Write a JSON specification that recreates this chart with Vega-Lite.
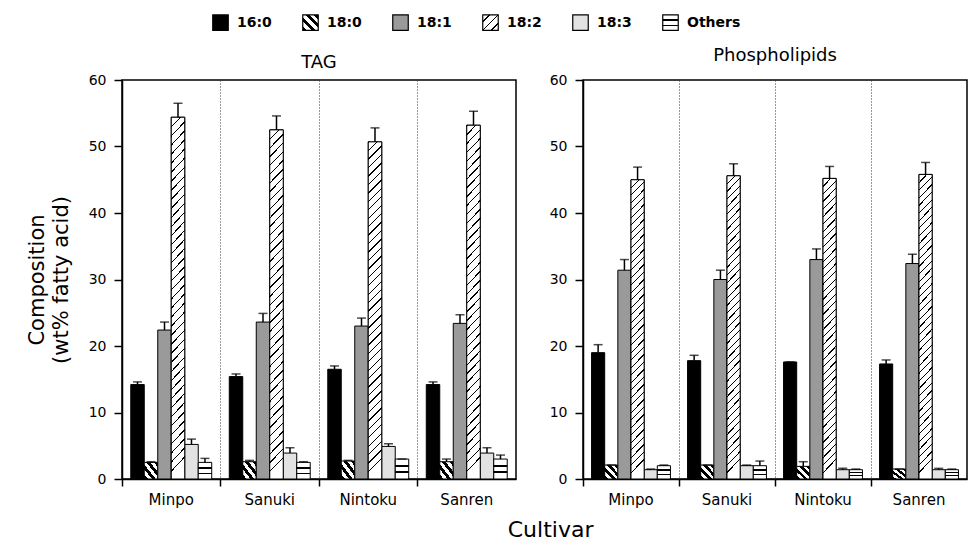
{
  "$schema": "https://vega.github.io/schema/vega-lite/v6.json",
  "background": "white",
  "padding": {"left": 25, "top": 13, "right": 0, "bottom": 0},
  "bounds": "flush",
  "datasets": {
    "fa": [
      {"lipid": "TAG", "cultivar": "Minpo", "acid": "16:0", "value": 14.2, "upper": 14.6},
      {"lipid": "TAG", "cultivar": "Minpo", "acid": "18:0", "value": 2.5, "upper": 2.6},
      {"lipid": "TAG", "cultivar": "Minpo", "acid": "18:1", "value": 22.4, "upper": 23.6},
      {"lipid": "TAG", "cultivar": "Minpo", "acid": "18:2", "value": 54.4, "upper": 56.5},
      {"lipid": "TAG", "cultivar": "Minpo", "acid": "18:3", "value": 5.2, "upper": 6.0},
      {"lipid": "TAG", "cultivar": "Minpo", "acid": "Others", "value": 2.5, "upper": 3.1},
      {"lipid": "TAG", "cultivar": "Sanuki", "acid": "16:0", "value": 15.4, "upper": 15.8},
      {"lipid": "TAG", "cultivar": "Sanuki", "acid": "18:0", "value": 2.6, "upper": 2.8},
      {"lipid": "TAG", "cultivar": "Sanuki", "acid": "18:1", "value": 23.6, "upper": 24.9},
      {"lipid": "TAG", "cultivar": "Sanuki", "acid": "18:2", "value": 52.5, "upper": 54.6},
      {"lipid": "TAG", "cultivar": "Sanuki", "acid": "18:3", "value": 3.9, "upper": 4.7},
      {"lipid": "TAG", "cultivar": "Sanuki", "acid": "Others", "value": 2.5, "upper": 2.6},
      {"lipid": "TAG", "cultivar": "Nintoku", "acid": "16:0", "value": 16.5, "upper": 17.0},
      {"lipid": "TAG", "cultivar": "Nintoku", "acid": "18:0", "value": 2.7, "upper": 2.8},
      {"lipid": "TAG", "cultivar": "Nintoku", "acid": "18:1", "value": 23.0, "upper": 24.2},
      {"lipid": "TAG", "cultivar": "Nintoku", "acid": "18:2", "value": 50.7, "upper": 52.8},
      {"lipid": "TAG", "cultivar": "Nintoku", "acid": "18:3", "value": 4.9, "upper": 5.3},
      {"lipid": "TAG", "cultivar": "Nintoku", "acid": "Others", "value": 3.0, "upper": 3.0},
      {"lipid": "TAG", "cultivar": "Sanren", "acid": "16:0", "value": 14.2, "upper": 14.6},
      {"lipid": "TAG", "cultivar": "Sanren", "acid": "18:0", "value": 2.6, "upper": 3.0},
      {"lipid": "TAG", "cultivar": "Sanren", "acid": "18:1", "value": 23.4, "upper": 24.7},
      {"lipid": "TAG", "cultivar": "Sanren", "acid": "18:2", "value": 53.2, "upper": 55.3},
      {"lipid": "TAG", "cultivar": "Sanren", "acid": "18:3", "value": 3.9, "upper": 4.7},
      {"lipid": "TAG", "cultivar": "Sanren", "acid": "Others", "value": 3.0, "upper": 3.6},
      {"lipid": "Phospholipids", "cultivar": "Minpo", "acid": "16:0", "value": 19.0, "upper": 20.2},
      {"lipid": "Phospholipids", "cultivar": "Minpo", "acid": "18:0", "value": 2.1, "upper": 2.1},
      {"lipid": "Phospholipids", "cultivar": "Minpo", "acid": "18:1", "value": 31.4, "upper": 33.0},
      {"lipid": "Phospholipids", "cultivar": "Minpo", "acid": "18:2", "value": 45.0, "upper": 46.9},
      {"lipid": "Phospholipids", "cultivar": "Minpo", "acid": "18:3", "value": 1.4, "upper": 1.5},
      {"lipid": "Phospholipids", "cultivar": "Minpo", "acid": "Others", "value": 2.0, "upper": 2.1},
      {"lipid": "Phospholipids", "cultivar": "Sanuki", "acid": "16:0", "value": 17.8, "upper": 18.6},
      {"lipid": "Phospholipids", "cultivar": "Sanuki", "acid": "18:0", "value": 2.1, "upper": 2.1},
      {"lipid": "Phospholipids", "cultivar": "Sanuki", "acid": "18:1", "value": 30.0, "upper": 31.4},
      {"lipid": "Phospholipids", "cultivar": "Sanuki", "acid": "18:2", "value": 45.6, "upper": 47.4},
      {"lipid": "Phospholipids", "cultivar": "Sanuki", "acid": "18:3", "value": 2.0, "upper": 2.1},
      {"lipid": "Phospholipids", "cultivar": "Sanuki", "acid": "Others", "value": 2.0, "upper": 2.7},
      {"lipid": "Phospholipids", "cultivar": "Nintoku", "acid": "16:0", "value": 17.6, "upper": 17.6},
      {"lipid": "Phospholipids", "cultivar": "Nintoku", "acid": "18:0", "value": 1.9, "upper": 2.6},
      {"lipid": "Phospholipids", "cultivar": "Nintoku", "acid": "18:1", "value": 33.0, "upper": 34.6},
      {"lipid": "Phospholipids", "cultivar": "Nintoku", "acid": "18:2", "value": 45.2, "upper": 47.0},
      {"lipid": "Phospholipids", "cultivar": "Nintoku", "acid": "18:3", "value": 1.4, "upper": 1.6},
      {"lipid": "Phospholipids", "cultivar": "Nintoku", "acid": "Others", "value": 1.4, "upper": 1.5},
      {"lipid": "Phospholipids", "cultivar": "Sanren", "acid": "16:0", "value": 17.3, "upper": 17.9},
      {"lipid": "Phospholipids", "cultivar": "Sanren", "acid": "18:0", "value": 1.5, "upper": 1.5},
      {"lipid": "Phospholipids", "cultivar": "Sanren", "acid": "18:1", "value": 32.4, "upper": 33.8},
      {"lipid": "Phospholipids", "cultivar": "Sanren", "acid": "18:2", "value": 45.8, "upper": 47.6},
      {"lipid": "Phospholipids", "cultivar": "Sanren", "acid": "18:3", "value": 1.4, "upper": 1.6},
      {"lipid": "Phospholipids", "cultivar": "Sanren", "acid": "Others", "value": 1.4, "upper": 1.5}
    ]
  },
  "title": {"text": "Cultivar", "orient": "bottom", "anchor": "middle", "frame": "bounds", "fontSize": 22, "fontWeight": "normal", "font": "DejaVu Sans", "color": "black", "offset": 12, "dx": 54},
  "spacing": 67,
  "hconcat": [
    {
      "width": 394,
      "height": 399,
      "title": {"text": "TAG", "offset": -58},
      "data": {"name": "fa"},
      "transform": [{"filter": "datum.lipid === 'TAG'"}],
      "encoding": {
        "x": {"field": "cultivar", "type": "nominal", "sort": ["Minpo", "Sanuki", "Nintoku", "Sanren"], "scale": {"domain": ["Minpo", "Sanuki", "Nintoku", "Sanren"], "paddingInner": 0, "paddingOuter": 0}, "axis": {"title": null, "bandPosition": 0, "grid": true, "labelAngle": 0}},
        "xOffset": {"field": "acid", "type": "nominal", "scale": {"domain": ["16:0", "18:0", "18:1", "18:2", "18:3", "Others"], "paddingInner": 0, "paddingOuter": 0.65}},
        "y": {"field": "value", "type": "quantitative", "scale": {"domain": [0, 60], "nice": false}, "axis": {"values": [0, 10, 20, 30, 40, 50, 60], "title": ["Composition", "(wt% fatty acid)"]}}
      },
      "layer": [
        {
          "mark": {"type": "bar", "stroke": "black", "strokeWidth": 1},
          "encoding": {
            "color": {
              "field": "acid", "type": "nominal",
              "scale": {"domain": ["16:0", "18:0", "18:1", "18:2", "18:3", "Others"], "range": [
                "#000000",
                {"expr": "{gradient: 'linear', x1: 0, y1: 1, x2: 1, y2: 0, stops: [{offset: 0, color: '#000'}, {offset: 0.143, color: '#000'}, {offset: 0.143, color: '#fff'}, {offset: 0.286, color: '#fff'}, {offset: 0.286, color: '#000'}, {offset: 0.429, color: '#000'}, {offset: 0.429, color: '#fff'}, {offset: 0.571, color: '#fff'}, {offset: 0.571, color: '#000'}, {offset: 0.714, color: '#000'}, {offset: 0.714, color: '#fff'}, {offset: 0.857, color: '#fff'}, {offset: 0.857, color: '#000'}, {offset: 1, color: '#000'}]}"},
                "#9a9a9a",
                {"expr": "{gradient: 'linear', x1: 0, y1: 0, x2: 1, y2: 1, stops: [{offset: 0, color: '#fff'}, {offset: 0.2, color: '#fff'}, {offset: 0.2, color: '#000'}, {offset: 0.25, color: '#000'}, {offset: 0.25, color: '#fff'}, {offset: 0.475, color: '#fff'}, {offset: 0.475, color: '#000'}, {offset: 0.525, color: '#000'}, {offset: 0.525, color: '#fff'}, {offset: 0.75, color: '#fff'}, {offset: 0.75, color: '#000'}, {offset: 0.8, color: '#000'}, {offset: 0.8, color: '#fff'}, {offset: 1, color: '#fff'}]}"},
                "#e2e2e2",
                {"expr": "{gradient: 'linear', x1: 0, y1: 0, x2: 0, y2: 1, stops: [{offset: 0, color: '#fff'}, {offset: 0.28, color: '#fff'}, {offset: 0.28, color: '#000'}, {offset: 0.38, color: '#000'}, {offset: 0.38, color: '#fff'}, {offset: 0.62, color: '#fff'}, {offset: 0.62, color: '#000'}, {offset: 0.72, color: '#000'}, {offset: 0.72, color: '#fff'}, {offset: 1, color: '#fff'}]}"}
              ]},
              "legend": {"orient": "none", "legendX": 90, "legendY": -66, "direction": "horizontal", "title": null, "symbolType": "square", "symbolSize": 240, "symbolStrokeColor": "black", "symbolStrokeWidth": 1.2, "symbolOpacity": 1, "labelFontSize": 14, "labelFontWeight": "bold", "labelColor": "black", "labelOffset": 8, "columnPadding": 9, "gridAlign": "all",
                "encode": {"symbols": {"update": {"stroke": {"value": "black"}, "strokeWidth": {"value": 1.2}}}}}
            }
          }
        },
        {
          "transform": [{"filter": "datum.acid === '18:2'"}],
          "mark": {"type": "bar", "stroke": "black", "strokeWidth": 1, "fill": {"gradient": "linear", "x1": 0, "y1": 0, "x2": 0.04, "y2": 1, "stops": [
            {"offset": 0, "color": "#000"}, {"offset": 0.004, "color": "#000"}, {"offset": 0.004, "color": "#fff"}, {"offset": 0.025, "color": "#fff"},
            {"offset": 0.025, "color": "#000"}, {"offset": 0.029, "color": "#000"}, {"offset": 0.029, "color": "#fff"}, {"offset": 0.05, "color": "#fff"},
            {"offset": 0.05, "color": "#000"}, {"offset": 0.054, "color": "#000"}, {"offset": 0.054, "color": "#fff"}, {"offset": 0.075, "color": "#fff"},
            {"offset": 0.075, "color": "#000"}, {"offset": 0.079, "color": "#000"}, {"offset": 0.079, "color": "#fff"}, {"offset": 0.1, "color": "#fff"},
            {"offset": 0.1, "color": "#000"}, {"offset": 0.104, "color": "#000"}, {"offset": 0.104, "color": "#fff"}, {"offset": 0.125, "color": "#fff"},
            {"offset": 0.125, "color": "#000"}, {"offset": 0.129, "color": "#000"}, {"offset": 0.129, "color": "#fff"}, {"offset": 0.15, "color": "#fff"},
            {"offset": 0.15, "color": "#000"}, {"offset": 0.154, "color": "#000"}, {"offset": 0.154, "color": "#fff"}, {"offset": 0.175, "color": "#fff"},
            {"offset": 0.175, "color": "#000"}, {"offset": 0.179, "color": "#000"}, {"offset": 0.179, "color": "#fff"}, {"offset": 0.2, "color": "#fff"},
            {"offset": 0.2, "color": "#000"}, {"offset": 0.204, "color": "#000"}, {"offset": 0.204, "color": "#fff"}, {"offset": 0.225, "color": "#fff"},
            {"offset": 0.225, "color": "#000"}, {"offset": 0.229, "color": "#000"}, {"offset": 0.229, "color": "#fff"}, {"offset": 0.25, "color": "#fff"},
            {"offset": 0.25, "color": "#000"}, {"offset": 0.254, "color": "#000"}, {"offset": 0.254, "color": "#fff"}, {"offset": 0.275, "color": "#fff"},
            {"offset": 0.275, "color": "#000"}, {"offset": 0.279, "color": "#000"}, {"offset": 0.279, "color": "#fff"}, {"offset": 0.3, "color": "#fff"},
            {"offset": 0.3, "color": "#000"}, {"offset": 0.304, "color": "#000"}, {"offset": 0.304, "color": "#fff"}, {"offset": 0.325, "color": "#fff"},
            {"offset": 0.325, "color": "#000"}, {"offset": 0.329, "color": "#000"}, {"offset": 0.329, "color": "#fff"}, {"offset": 0.35, "color": "#fff"},
            {"offset": 0.35, "color": "#000"}, {"offset": 0.354, "color": "#000"}, {"offset": 0.354, "color": "#fff"}, {"offset": 0.375, "color": "#fff"},
            {"offset": 0.375, "color": "#000"}, {"offset": 0.379, "color": "#000"}, {"offset": 0.379, "color": "#fff"}, {"offset": 0.4, "color": "#fff"},
            {"offset": 0.4, "color": "#000"}, {"offset": 0.404, "color": "#000"}, {"offset": 0.404, "color": "#fff"}, {"offset": 0.425, "color": "#fff"},
            {"offset": 0.425, "color": "#000"}, {"offset": 0.429, "color": "#000"}, {"offset": 0.429, "color": "#fff"}, {"offset": 0.45, "color": "#fff"},
            {"offset": 0.45, "color": "#000"}, {"offset": 0.454, "color": "#000"}, {"offset": 0.454, "color": "#fff"}, {"offset": 0.475, "color": "#fff"},
            {"offset": 0.475, "color": "#000"}, {"offset": 0.479, "color": "#000"}, {"offset": 0.479, "color": "#fff"}, {"offset": 0.5, "color": "#fff"},
            {"offset": 0.5, "color": "#000"}, {"offset": 0.504, "color": "#000"}, {"offset": 0.504, "color": "#fff"}, {"offset": 0.525, "color": "#fff"},
            {"offset": 0.525, "color": "#000"}, {"offset": 0.529, "color": "#000"}, {"offset": 0.529, "color": "#fff"}, {"offset": 0.55, "color": "#fff"},
            {"offset": 0.55, "color": "#000"}, {"offset": 0.554, "color": "#000"}, {"offset": 0.554, "color": "#fff"}, {"offset": 0.575, "color": "#fff"},
            {"offset": 0.575, "color": "#000"}, {"offset": 0.579, "color": "#000"}, {"offset": 0.579, "color": "#fff"}, {"offset": 0.6, "color": "#fff"},
            {"offset": 0.6, "color": "#000"}, {"offset": 0.604, "color": "#000"}, {"offset": 0.604, "color": "#fff"}, {"offset": 0.625, "color": "#fff"},
            {"offset": 0.625, "color": "#000"}, {"offset": 0.629, "color": "#000"}, {"offset": 0.629, "color": "#fff"}, {"offset": 0.65, "color": "#fff"},
            {"offset": 0.65, "color": "#000"}, {"offset": 0.654, "color": "#000"}, {"offset": 0.654, "color": "#fff"}, {"offset": 0.675, "color": "#fff"},
            {"offset": 0.675, "color": "#000"}, {"offset": 0.679, "color": "#000"}, {"offset": 0.679, "color": "#fff"}, {"offset": 0.7, "color": "#fff"},
            {"offset": 0.7, "color": "#000"}, {"offset": 0.704, "color": "#000"}, {"offset": 0.704, "color": "#fff"}, {"offset": 0.725, "color": "#fff"},
            {"offset": 0.725, "color": "#000"}, {"offset": 0.729, "color": "#000"}, {"offset": 0.729, "color": "#fff"}, {"offset": 0.75, "color": "#fff"},
            {"offset": 0.75, "color": "#000"}, {"offset": 0.754, "color": "#000"}, {"offset": 0.754, "color": "#fff"}, {"offset": 0.775, "color": "#fff"},
            {"offset": 0.775, "color": "#000"}, {"offset": 0.779, "color": "#000"}, {"offset": 0.779, "color": "#fff"}, {"offset": 0.8, "color": "#fff"},
            {"offset": 0.8, "color": "#000"}, {"offset": 0.804, "color": "#000"}, {"offset": 0.804, "color": "#fff"}, {"offset": 0.825, "color": "#fff"},
            {"offset": 0.825, "color": "#000"}, {"offset": 0.829, "color": "#000"}, {"offset": 0.829, "color": "#fff"}, {"offset": 0.85, "color": "#fff"},
            {"offset": 0.85, "color": "#000"}, {"offset": 0.854, "color": "#000"}, {"offset": 0.854, "color": "#fff"}, {"offset": 0.875, "color": "#fff"},
            {"offset": 0.875, "color": "#000"}, {"offset": 0.879, "color": "#000"}, {"offset": 0.879, "color": "#fff"}, {"offset": 0.9, "color": "#fff"},
            {"offset": 0.9, "color": "#000"}, {"offset": 0.904, "color": "#000"}, {"offset": 0.904, "color": "#fff"}, {"offset": 0.925, "color": "#fff"},
            {"offset": 0.925, "color": "#000"}, {"offset": 0.929, "color": "#000"}, {"offset": 0.929, "color": "#fff"}, {"offset": 0.95, "color": "#fff"},
            {"offset": 0.95, "color": "#000"}, {"offset": 0.954, "color": "#000"}, {"offset": 0.954, "color": "#fff"}, {"offset": 0.975, "color": "#fff"},
            {"offset": 0.975, "color": "#000"}, {"offset": 0.979, "color": "#000"}, {"offset": 0.979, "color": "#fff"}, {"offset": 1, "color": "#fff"}
          ]}},
          "encoding": {}
        },
        {
          "mark": {"type": "rule", "color": "black", "strokeWidth": 1.5},
          "encoding": {"y2": {"field": "upper"}}
        },
        {
          "mark": {"type": "tick", "color": "black", "thickness": 1.5, "size": 9},
          "encoding": {"y": {"field": "upper", "type": "quantitative", "axis": {"values": [0, 10, 20, 30, 40, 50, 60], "title": ["Composition", "(wt% fatty acid)"]}}}
        }
      ]
    },
    {
      "width": 384,
      "height": 399,
      "title": {"text": "Phospholipids"},
      "data": {"name": "fa"},
      "transform": [{"filter": "datum.lipid === 'Phospholipids'"}],
      "encoding": {
        "x": {"field": "cultivar", "type": "nominal", "sort": ["Minpo", "Sanuki", "Nintoku", "Sanren"], "scale": {"domain": ["Minpo", "Sanuki", "Nintoku", "Sanren"], "paddingInner": 0, "paddingOuter": 0}, "axis": {"title": null, "bandPosition": 0, "grid": true, "labelAngle": 0}},
        "xOffset": {"field": "acid", "type": "nominal", "scale": {"domain": ["16:0", "18:0", "18:1", "18:2", "18:3", "Others"], "paddingInner": 0, "paddingOuter": 0.65}},
        "y": {"field": "value", "type": "quantitative", "scale": {"domain": [0, 60], "nice": false}, "axis": {"values": [0, 10, 20, 30, 40, 50, 60], "title": null}}
      },
      "layer": [
        {
          "mark": {"type": "bar", "stroke": "black", "strokeWidth": 1},
          "encoding": {
            "color": {
              "field": "acid", "type": "nominal",
              "scale": {"domain": ["16:0", "18:0", "18:1", "18:2", "18:3", "Others"], "range": [
                "#000000",
                {"expr": "{gradient: 'linear', x1: 0, y1: 1, x2: 1, y2: 0, stops: [{offset: 0, color: '#000'}, {offset: 0.143, color: '#000'}, {offset: 0.143, color: '#fff'}, {offset: 0.286, color: '#fff'}, {offset: 0.286, color: '#000'}, {offset: 0.429, color: '#000'}, {offset: 0.429, color: '#fff'}, {offset: 0.571, color: '#fff'}, {offset: 0.571, color: '#000'}, {offset: 0.714, color: '#000'}, {offset: 0.714, color: '#fff'}, {offset: 0.857, color: '#fff'}, {offset: 0.857, color: '#000'}, {offset: 1, color: '#000'}]}"},
                "#9a9a9a",
                {"expr": "{gradient: 'linear', x1: 0, y1: 0, x2: 1, y2: 1, stops: [{offset: 0, color: '#fff'}, {offset: 0.2, color: '#fff'}, {offset: 0.2, color: '#000'}, {offset: 0.25, color: '#000'}, {offset: 0.25, color: '#fff'}, {offset: 0.475, color: '#fff'}, {offset: 0.475, color: '#000'}, {offset: 0.525, color: '#000'}, {offset: 0.525, color: '#fff'}, {offset: 0.75, color: '#fff'}, {offset: 0.75, color: '#000'}, {offset: 0.8, color: '#000'}, {offset: 0.8, color: '#fff'}, {offset: 1, color: '#fff'}]}"},
                "#e2e2e2",
                {"expr": "{gradient: 'linear', x1: 0, y1: 0, x2: 0, y2: 1, stops: [{offset: 0, color: '#fff'}, {offset: 0.28, color: '#fff'}, {offset: 0.28, color: '#000'}, {offset: 0.38, color: '#000'}, {offset: 0.38, color: '#fff'}, {offset: 0.62, color: '#fff'}, {offset: 0.62, color: '#000'}, {offset: 0.72, color: '#000'}, {offset: 0.72, color: '#fff'}, {offset: 1, color: '#fff'}]}"}
              ]},
              "legend": null
            }
          }
        },
        {
          "transform": [{"filter": "datum.acid === '18:2'"}],
          "mark": {"type": "bar", "stroke": "black", "strokeWidth": 1, "fill": {"gradient": "linear", "x1": 0, "y1": 0, "x2": 0.045, "y2": 1, "stops": [
            {"offset": 0, "color": "#000"}, {"offset": 0.004, "color": "#000"}, {"offset": 0.004, "color": "#fff"}, {"offset": 0.025, "color": "#fff"},
            {"offset": 0.025, "color": "#000"}, {"offset": 0.029, "color": "#000"}, {"offset": 0.029, "color": "#fff"}, {"offset": 0.05, "color": "#fff"},
            {"offset": 0.05, "color": "#000"}, {"offset": 0.054, "color": "#000"}, {"offset": 0.054, "color": "#fff"}, {"offset": 0.075, "color": "#fff"},
            {"offset": 0.075, "color": "#000"}, {"offset": 0.079, "color": "#000"}, {"offset": 0.079, "color": "#fff"}, {"offset": 0.1, "color": "#fff"},
            {"offset": 0.1, "color": "#000"}, {"offset": 0.104, "color": "#000"}, {"offset": 0.104, "color": "#fff"}, {"offset": 0.125, "color": "#fff"},
            {"offset": 0.125, "color": "#000"}, {"offset": 0.129, "color": "#000"}, {"offset": 0.129, "color": "#fff"}, {"offset": 0.15, "color": "#fff"},
            {"offset": 0.15, "color": "#000"}, {"offset": 0.154, "color": "#000"}, {"offset": 0.154, "color": "#fff"}, {"offset": 0.175, "color": "#fff"},
            {"offset": 0.175, "color": "#000"}, {"offset": 0.179, "color": "#000"}, {"offset": 0.179, "color": "#fff"}, {"offset": 0.2, "color": "#fff"},
            {"offset": 0.2, "color": "#000"}, {"offset": 0.204, "color": "#000"}, {"offset": 0.204, "color": "#fff"}, {"offset": 0.225, "color": "#fff"},
            {"offset": 0.225, "color": "#000"}, {"offset": 0.229, "color": "#000"}, {"offset": 0.229, "color": "#fff"}, {"offset": 0.25, "color": "#fff"},
            {"offset": 0.25, "color": "#000"}, {"offset": 0.254, "color": "#000"}, {"offset": 0.254, "color": "#fff"}, {"offset": 0.275, "color": "#fff"},
            {"offset": 0.275, "color": "#000"}, {"offset": 0.279, "color": "#000"}, {"offset": 0.279, "color": "#fff"}, {"offset": 0.3, "color": "#fff"},
            {"offset": 0.3, "color": "#000"}, {"offset": 0.304, "color": "#000"}, {"offset": 0.304, "color": "#fff"}, {"offset": 0.325, "color": "#fff"},
            {"offset": 0.325, "color": "#000"}, {"offset": 0.329, "color": "#000"}, {"offset": 0.329, "color": "#fff"}, {"offset": 0.35, "color": "#fff"},
            {"offset": 0.35, "color": "#000"}, {"offset": 0.354, "color": "#000"}, {"offset": 0.354, "color": "#fff"}, {"offset": 0.375, "color": "#fff"},
            {"offset": 0.375, "color": "#000"}, {"offset": 0.379, "color": "#000"}, {"offset": 0.379, "color": "#fff"}, {"offset": 0.4, "color": "#fff"},
            {"offset": 0.4, "color": "#000"}, {"offset": 0.404, "color": "#000"}, {"offset": 0.404, "color": "#fff"}, {"offset": 0.425, "color": "#fff"},
            {"offset": 0.425, "color": "#000"}, {"offset": 0.429, "color": "#000"}, {"offset": 0.429, "color": "#fff"}, {"offset": 0.45, "color": "#fff"},
            {"offset": 0.45, "color": "#000"}, {"offset": 0.454, "color": "#000"}, {"offset": 0.454, "color": "#fff"}, {"offset": 0.475, "color": "#fff"},
            {"offset": 0.475, "color": "#000"}, {"offset": 0.479, "color": "#000"}, {"offset": 0.479, "color": "#fff"}, {"offset": 0.5, "color": "#fff"},
            {"offset": 0.5, "color": "#000"}, {"offset": 0.504, "color": "#000"}, {"offset": 0.504, "color": "#fff"}, {"offset": 0.525, "color": "#fff"},
            {"offset": 0.525, "color": "#000"}, {"offset": 0.529, "color": "#000"}, {"offset": 0.529, "color": "#fff"}, {"offset": 0.55, "color": "#fff"},
            {"offset": 0.55, "color": "#000"}, {"offset": 0.554, "color": "#000"}, {"offset": 0.554, "color": "#fff"}, {"offset": 0.575, "color": "#fff"},
            {"offset": 0.575, "color": "#000"}, {"offset": 0.579, "color": "#000"}, {"offset": 0.579, "color": "#fff"}, {"offset": 0.6, "color": "#fff"},
            {"offset": 0.6, "color": "#000"}, {"offset": 0.604, "color": "#000"}, {"offset": 0.604, "color": "#fff"}, {"offset": 0.625, "color": "#fff"},
            {"offset": 0.625, "color": "#000"}, {"offset": 0.629, "color": "#000"}, {"offset": 0.629, "color": "#fff"}, {"offset": 0.65, "color": "#fff"},
            {"offset": 0.65, "color": "#000"}, {"offset": 0.654, "color": "#000"}, {"offset": 0.654, "color": "#fff"}, {"offset": 0.675, "color": "#fff"},
            {"offset": 0.675, "color": "#000"}, {"offset": 0.679, "color": "#000"}, {"offset": 0.679, "color": "#fff"}, {"offset": 0.7, "color": "#fff"},
            {"offset": 0.7, "color": "#000"}, {"offset": 0.704, "color": "#000"}, {"offset": 0.704, "color": "#fff"}, {"offset": 0.725, "color": "#fff"},
            {"offset": 0.725, "color": "#000"}, {"offset": 0.729, "color": "#000"}, {"offset": 0.729, "color": "#fff"}, {"offset": 0.75, "color": "#fff"},
            {"offset": 0.75, "color": "#000"}, {"offset": 0.754, "color": "#000"}, {"offset": 0.754, "color": "#fff"}, {"offset": 0.775, "color": "#fff"},
            {"offset": 0.775, "color": "#000"}, {"offset": 0.779, "color": "#000"}, {"offset": 0.779, "color": "#fff"}, {"offset": 0.8, "color": "#fff"},
            {"offset": 0.8, "color": "#000"}, {"offset": 0.804, "color": "#000"}, {"offset": 0.804, "color": "#fff"}, {"offset": 0.825, "color": "#fff"},
            {"offset": 0.825, "color": "#000"}, {"offset": 0.829, "color": "#000"}, {"offset": 0.829, "color": "#fff"}, {"offset": 0.85, "color": "#fff"},
            {"offset": 0.85, "color": "#000"}, {"offset": 0.854, "color": "#000"}, {"offset": 0.854, "color": "#fff"}, {"offset": 0.875, "color": "#fff"},
            {"offset": 0.875, "color": "#000"}, {"offset": 0.879, "color": "#000"}, {"offset": 0.879, "color": "#fff"}, {"offset": 0.9, "color": "#fff"},
            {"offset": 0.9, "color": "#000"}, {"offset": 0.904, "color": "#000"}, {"offset": 0.904, "color": "#fff"}, {"offset": 0.925, "color": "#fff"},
            {"offset": 0.925, "color": "#000"}, {"offset": 0.929, "color": "#000"}, {"offset": 0.929, "color": "#fff"}, {"offset": 0.95, "color": "#fff"},
            {"offset": 0.95, "color": "#000"}, {"offset": 0.954, "color": "#000"}, {"offset": 0.954, "color": "#fff"}, {"offset": 0.975, "color": "#fff"},
            {"offset": 0.975, "color": "#000"}, {"offset": 0.979, "color": "#000"}, {"offset": 0.979, "color": "#fff"}, {"offset": 1, "color": "#fff"}
          ]}},
          "encoding": {}
        },
        {
          "mark": {"type": "rule", "color": "black", "strokeWidth": 1.5},
          "encoding": {"y2": {"field": "upper"}}
        },
        {
          "mark": {"type": "tick", "color": "black", "thickness": 1.5, "size": 9},
          "encoding": {"y": {"field": "upper", "type": "quantitative", "axis": {"values": [0, 10, 20, 30, 40, 50, 60], "title": null}}}
        }
      ]
    }
  ],
  "resolve": {"scale": {"x": "independent", "y": "independent", "xOffset": "independent", "color": "independent"}},
  "config": {
    "font": "DejaVu Sans",
    "view": {"stroke": "black", "strokeWidth": 1.5},
    "axis": {"grid": false, "domainColor": "black", "domainWidth": 1.5, "tickColor": "black", "tickWidth": 1.5, "tickSize": 8, "labelColor": "black", "labelFontSize": 14, "labelPadding": 8, "titleColor": "black", "titleFontSize": 21, "titleFontWeight": "normal", "titlePadding": 17, "titleLineHeight": 24, "gridColor": "#333", "gridDash": [1, 2], "gridWidth": 1},
    "axisX": {"labelFontSize": 15, "tickSize": 7, "labelPadding": 6},
    "title": {"fontSize": 18, "fontWeight": "normal", "color": "black", "anchor": "middle", "offset": 8}
  }
}
